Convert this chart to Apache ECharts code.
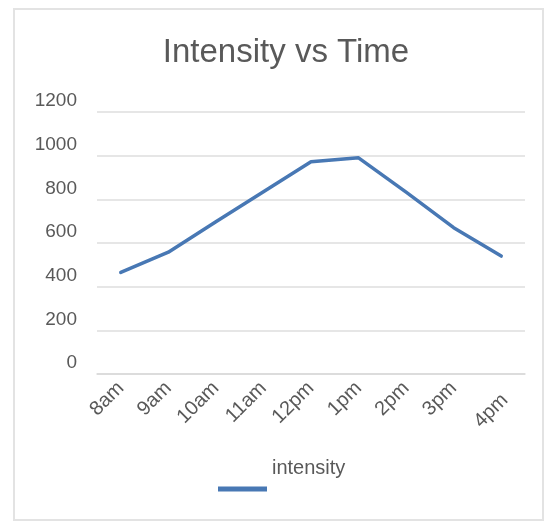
<!DOCTYPE html>
<html>
<head>
<meta charset="utf-8">
<script src="https://cdn.jsdelivr.net/npm/echarts@6/dist/echarts.min.js"></script>
<style>
  html, body { margin: 0; padding: 0; background: #ffffff; }
  #frame {
    position: absolute; left: 13px; top: 8px; width: 527px; height: 509px;
    border: 2px solid #e3e3e3; box-sizing: content-box;
  }
  #chart { position: absolute; left: 0; top: 0; width: 546px; height: 521px; }
</style>
</head>
<body>
<div id="frame"></div>
<div id="chart"></div>
<script>
// Hourly readings
const times = ['8am', '9am', '10am', '11am', '12pm', '1pm', '2pm', '3pm', '4pm'];
const intensity = [465, 558, 697, 835, 972, 990, 833, 670, 540];
const seriesName = 'intensity';
const chartTitle = 'Intensity vs Time';

const textColor = '#595959';
const fontFamily = '"Liberation Sans", Arial, Helvetica, sans-serif';

const chart = echarts.init(document.getElementById('chart'), null, { renderer: 'canvas' });
chart.setOption({
  backgroundColor: 'transparent',
  animation: false,
  title: {
    text: chartTitle,
    left: 281,
    top: 31,
    textAlign: 'center',
    textStyle: { color: textColor, fontSize: 33, fontWeight: 'normal', fontFamily: fontFamily }
  },
  grid: { left: 97, right: 21, top: 112, bottom: 147, containLabel: false },
  legend: {
    data: [seriesName],
    left: 218,
    top: 458,
    padding: 0,
    icon: 'rect',
    itemWidth: 49,
    itemHeight: 5,
    itemGap: 6,
    // the series name sits raised above the swatch
    formatter: '{raised|{name}}',
    textStyle: {
      color: textColor, fontSize: 20, fontFamily: fontFamily,
      rich: {
        raised: {
          color: textColor, fontSize: 20, fontFamily: fontFamily,
          lineHeight: 22, padding: [0, 0, 42, 0]
        }
      }
    }
  },
  xAxis: {
    type: 'category',
    data: times,
    boundaryGap: true,
    axisLine: { show: true, lineStyle: { color: '#d9d9d9', width: 1.5 } },
    axisTick: { show: false },
    axisLabel: {
      rotate: 45, margin: 11, color: textColor, fontSize: 20, fontFamily: fontFamily,
      // the last hour label drops a little lower than the rest
      formatter: function (v, i) {
        return i === times.length - 1 ? '{low|' + v + '}' : v;
      },
      rich: {
        low: {
          color: textColor, fontSize: 20, fontFamily: fontFamily,
          padding: [22, 6, 0, 0]
        }
      }
    }
  },
  yAxis: {
    type: 'value',
    min: 0,
    max: 1200,
    interval: 200,
    axisLine: { show: false },
    axisTick: { show: false },
    splitLine: { lineStyle: { color: '#dedede', width: 1.5 } },
    axisLabel: {
      margin: 20, color: textColor, fontSize: 19, fontFamily: fontFamily,
      formatter: function (v) { return String(v); },
      verticalAlign: 'bottom', lineHeight: 20, padding: [0, 0, 1, 0]
    }
  },
  series: [{
    name: seriesName,
    type: 'line',
    data: intensity,
    symbol: 'none',
    lineStyle: { color: '#4878b4', width: 3.5, join: 'round', cap: 'round' },
    itemStyle: { color: '#4878b4' }
  }]
});
</script>
</body>
</html>
